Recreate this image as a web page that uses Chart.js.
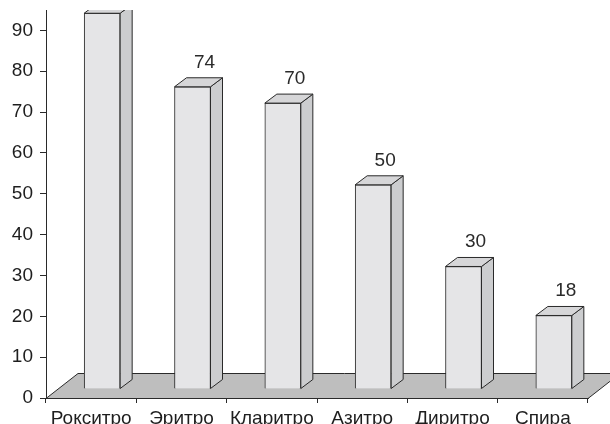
<!DOCTYPE html>
<html>
<head>
<meta charset="utf-8">
<script src="https://cdn.jsdelivr.net/npm/chart.js@4"></script>
<style>
  html, body { margin: 0; padding: 0; background: #fff; }
  #wrap { width: 610px; height: 424px; }
</style>
</head>
<body>
<div id="wrap"><canvas id="chart" width="610" height="424"></canvas></div>
<script>
'use strict';

// Препараты и значения
const drugs  = ['Рокситро', 'Эритро', 'Кларитро', 'Азитро', 'Диритро', 'Спира'];
const values = [92, 74, 70, 50, 30, 18];
const yTicks = [0, 10, 20, 30, 40, 50, 60, 70, 80, 90];

const INK   = '#2a2a2a';
const FRONT = '#e5e5e7';
const SIDE  = '#cccdcf';
const TOP   = '#d6d6d8';
const FLOOR = '#bebebe';
const FONT  = "'Liberation Sans', Arial, Helvetica, sans-serif";

// смещение столбцов внутрь "пола" и глубина самих столбцов
const SHIFT = { x: 11, y: -9 };
const DEPTH = { x: 12, y: -9 };
const FLOOR_DEPTH = { x: 32, y: -25 };

const bars3d = {
  id: 'bars3d',
  beforeDatasetsDraw(chart) {
    const { ctx, chartArea: a } = chart;
    // пол
    ctx.save();
    ctx.beginPath();
    ctx.moveTo(a.left, a.bottom + 0.5);
    ctx.lineTo(a.right, a.bottom + 0.5);
    ctx.lineTo(a.right + FLOOR_DEPTH.x, a.bottom + 0.5 + FLOOR_DEPTH.y);
    ctx.lineTo(a.left + FLOOR_DEPTH.x, a.bottom + 0.5 + FLOOR_DEPTH.y);
    ctx.closePath();
    ctx.fillStyle = FLOOR;
    ctx.fill();
    ctx.strokeStyle = INK;
    ctx.lineWidth = 1;
    ctx.stroke();
    ctx.restore();

    ctx.save();
    ctx.beginPath();
    ctx.rect(0, a.top, chart.width, chart.height - a.top);
    ctx.clip();
    ctx.translate(SHIFT.x, SHIFT.y);
  },
  afterDatasetsDraw(chart) {
    const { ctx } = chart;
    const meta = chart.getDatasetMeta(0);
    meta.data.forEach((bar, i) => {
      const { x, y, base, width } = bar.getProps(['x', 'y', 'base', 'width'], true);
      const l = x - width / 2, r = x + width / 2;
      ctx.lineWidth = 1;
      ctx.strokeStyle = INK;
      // боковая грань
      ctx.beginPath();
      ctx.moveTo(r, y);
      ctx.lineTo(r + DEPTH.x, y + DEPTH.y);
      ctx.lineTo(r + DEPTH.x, base + DEPTH.y);
      ctx.lineTo(r, base);
      ctx.closePath();
      ctx.fillStyle = SIDE;
      ctx.fill();
      ctx.stroke();
      // верхняя грань
      ctx.beginPath();
      ctx.moveTo(l, y);
      ctx.lineTo(l + DEPTH.x, y + DEPTH.y);
      ctx.lineTo(r + DEPTH.x, y + DEPTH.y);
      ctx.lineTo(r, y);
      ctx.closePath();
      ctx.fillStyle = TOP;
      ctx.fill();
      ctx.stroke();
      // подпись значения
      ctx.fillStyle = INK;
      ctx.font = '19px ' + FONT;
      ctx.textAlign = 'center';
      ctx.textBaseline = 'alphabetic';
      ctx.fillText(String(values[i]), x + DEPTH.x, y + DEPTH.y - 10);
    });
    ctx.restore();
  }
};

new Chart(document.getElementById('chart'), {
  type: 'bar',
  data: {
    labels: drugs,
    datasets: [{
      data: values,
      backgroundColor: FRONT,
      borderColor: INK,
      borderWidth: 1,
      barThickness: 36,
      clip: false
    }]
  },
  plugins: [bars3d],
  options: {
    responsive: false,
    animation: false,
    layout: { padding: { top: 10, right: 22, left: 0, bottom: 0 } },
    plugins: { legend: { display: false }, tooltip: { enabled: false } },
    scales: {
      x: {
        afterFit: (s) => { s.height = 26; s.paddingLeft = 0; s.paddingRight = 0; },
        grid: { drawOnChartArea: false, drawTicks: true, tickLength: 5, color: INK, offset: true },
        border: { display: true, color: INK },
        ticks: { color: '#1e1e1e', font: { family: FONT, size: 19 }, padding: 4, maxRotation: 0 }
      },
      y: {
        min: 0,
        max: 95,
        afterFit: (s) => { s.width = 46; s.paddingTop = 0; s.paddingBottom = 0; },
        afterBuildTicks: (s) => { s.ticks = yTicks.map(v => ({ value: v })); },
        grid: { drawOnChartArea: false, drawTicks: true, tickLength: 6, color: INK },
        border: { display: true, color: INK },
        ticks: { color: '#1e1e1e', font: { family: FONT, size: 19 }, padding: 7 }
      }
    }
  }
});
</script>
</body>
</html>
